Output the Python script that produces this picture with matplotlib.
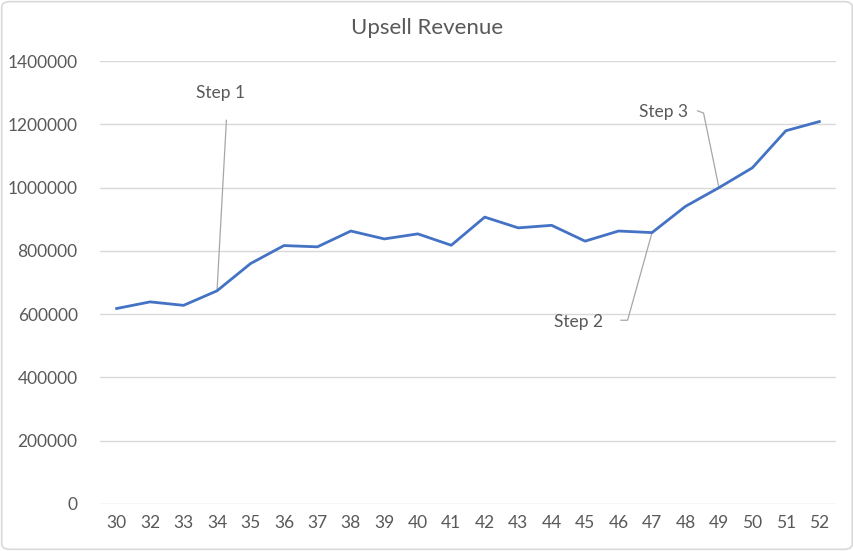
import matplotlib.pyplot as plt
from matplotlib.patches import FancyBboxPatch

plt.rcParams["font.family"] = ["Lato", "DejaVu Sans"]

weeks = ["30", "32", "33", "34", "35", "36", "37", "38", "39", "40", "41", "42",
         "43", "44", "45", "46", "47", "48", "49", "50", "51", "52"]
revenue = [618000, 639000, 628000, 674000, 760000, 817000, 813000, 863000,
           838000, 854000, 818000, 907000, 873000, 881000, 831000, 863000,
           858000, 941000, 1000000, 1063000, 1180000, 1209000]

# label, week index, text centre, leader path (data coords) ending at the point
steps = [
    ("Step 1", 3, (3.1, 1300000), [(3.28, 1213000)]),
    ("Step 2", 16, (13.8, 575000), [(15.07, 581000), (15.27, 581000)]),
    ("Step 3", 18, (16.35, 1238000), [(17.36, 1243000), (17.54, 1236000)]),
]

gray_text = "#595959"
grid_color = "#D9D9D9"
line_color = "#4472C4"

fig = plt.figure(figsize=(8.54, 5.51), dpi=100)
ax = fig.add_axes([0.117, 0.0853, 0.862, 0.8037])

x = list(range(len(weeks)))
ax.plot(x, revenue, color=line_color, linewidth=2.0, solid_joinstyle="round", zorder=3)

ax.set_xlim(-0.5, len(weeks) - 0.5)
ax.set_ylim(0, 1400000)
ax.set_yticks(range(0, 1400001, 200000))
ax.set_yticklabels([str(v) for v in range(0, 1400001, 200000)])
ax.set_xticks(x)
ax.set_xticklabels(weeks)
ax.tick_params(axis="both", length=0, labelsize=12.5, labelcolor=gray_text)
ax.tick_params(axis="y", pad=16)
ax.tick_params(axis="x", pad=8)
ax.grid(axis="y", color=grid_color, linewidth=1)
ax.set_axisbelow(True)
for side in ax.spines.values():
    side.set_visible(False)

for label, idx, (tx, ty), path in steps:
    ax.text(tx, ty, label, fontsize=12.5, color=gray_text, ha="center", va="center")
    xs = [p[0] for p in path] + [idx]
    ys = [p[1] for p in path] + [revenue[idx]]
    ax.plot(xs, ys, color="#A6A6A6", linewidth=0.9, zorder=2)

fig.text(0.5, 0.95, "Upsell Revenue", ha="center", va="center",
         fontsize=16, color=gray_text)

fig.patches.append(FancyBboxPatch((0.002, 0.003), 0.996, 0.994,
                                  boxstyle="round,pad=0,rounding_size=0.01",
                                  transform=fig.transFigure, fill=False,
                                  edgecolor="#D9D9D9", linewidth=1.2))

fig.savefig("out.png", dpi=100)
